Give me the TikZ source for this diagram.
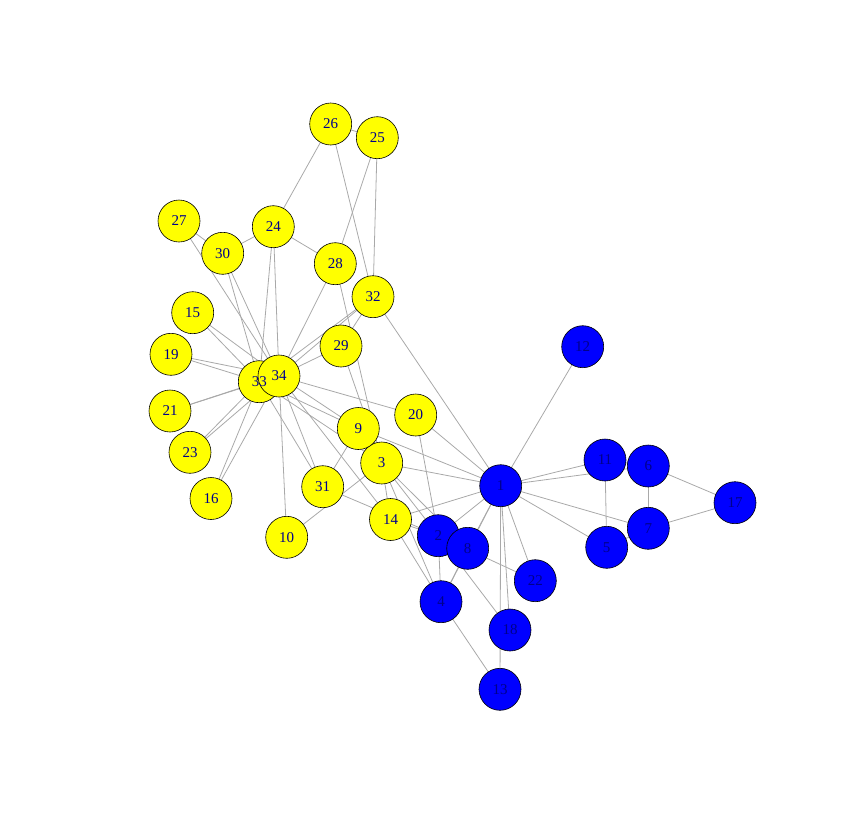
\documentclass[tikz,border=0pt]{standalone}
\usepackage{fontspec}
\setmainfont{Liberation Serif}
\definecolor{edgegray}{HTML}{A9A9A9}
\definecolor{labelblue}{HTML}{00008B}
\definecolor{vyellow}{HTML}{FFFF00}
\definecolor{vblue}{HTML}{0000FF}
\begin{document}
\begin{tikzpicture}[x=1pt,y=-1pt,
  vtx/.style={circle,draw=black,line width=0.6pt,minimum size=42pt,inner sep=0pt},
  yv/.style={vtx,fill=vyellow},
  bv/.style={vtx,fill=vblue},
  lab/.style={text=labelblue,font=\fontsize{15}{15}\selectfont,inner sep=0pt},
  edge/.style={draw=edgegray,line width=0.8pt}]
\useasboundingbox (0,0) rectangle (867,833);
% coordinates
\foreach \n/\x/\y in {1/500.7/485.7,2/438.3/535.7,3/381.7/463,4/441/601.7,5/606.7/547.3,6/648.3/466,7/648.3/528.3,8/467.7/548.3,9/358.3/428.5,10/286.7/537.3,11/605/460,12/582.7/346.7,13/500/689.3,14/390.5/519.5,15/192.7/312.7,16/211/498.5,17/735/502.7,18/510/630,19/171/354.3,20/415.7/415,21/170/411,22/535.3/580.7,23/190/452.3,24/273.3/226.7,25/377.3/137.7,26/330.7/124,27/179/221,28/335.3/263.7,29/341/346,30/222.7/253.3,31/322.7/486.7,32/373/296.7,33/259.3/381.7,34/279/376}
  \coordinate (c\n) at (\x,\y);
% edges
\foreach \a/\b in {1/2,1/3,1/4,1/5,1/6,1/7,1/8,1/9,1/11,1/12,1/13,1/14,1/18,1/20,1/22,1/32,
  2/3,2/4,2/8,2/14,2/18,2/20,2/22,2/31,
  3/4,3/8,3/28,3/29,3/33,3/10,3/9,3/14,
  4/8,4/13,4/14,5/7,5/11,6/7,6/11,6/17,7/17,
  9/31,9/33,9/34,10/34,14/34,15/33,15/34,16/33,16/34,19/33,19/34,20/34,
  21/33,21/34,23/33,23/34,24/26,24/28,24/33,24/34,24/30,
  25/26,25/28,25/32,26/32,27/30,27/34,28/34,29/32,29/34,30/33,30/34,
  31/33,31/34,32/33,32/34,33/34}
  \draw[edge] (c\a) -- (c\b);
% vertices
\foreach \n/\s in {1/bv,2/bv,3/yv,4/bv,5/bv,6/bv,7/bv,8/bv,9/yv,10/yv,11/bv,12/bv,13/bv,14/yv,15/yv,16/yv,17/bv,18/bv,19/yv,20/yv,21/yv,22/bv,23/yv,24/yv,25/yv,26/yv,27/yv,28/yv,29/yv,30/yv,31/yv,32/yv,33/yv,34/yv}
  \node[\s] (v\n) at (c\n) {};
% labels
\foreach \n in {1,...,34}
  \node[lab] (l\n) at (c\n) {\n};
\end{tikzpicture}
\end{document}
